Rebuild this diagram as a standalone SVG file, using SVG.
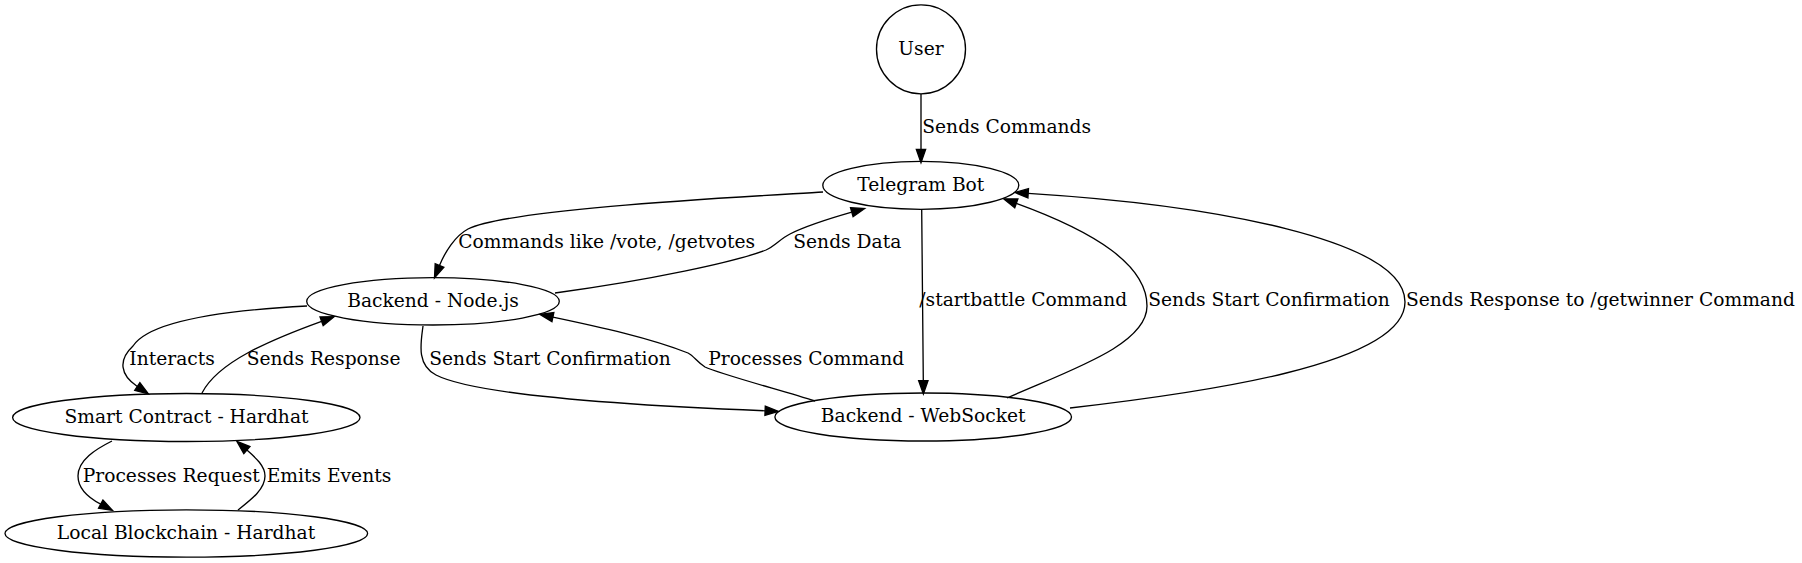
<svg xmlns="http://www.w3.org/2000/svg" width="1802" height="563" viewBox="0 0 1802 563">
<style>
.n{fill:none;stroke:#000;stroke-width:1.33}
.e{fill:none;stroke:#000;stroke-width:1.33;marker-end:url(#ah)}
text{font-family:"DejaVu Serif","Liberation Serif",serif;font-size:18.67px;fill:#000}
.c{text-anchor:middle}
</style>
<defs>
<marker id="ah" markerUnits="userSpaceOnUse" markerWidth="15" markerHeight="11" refX="0" refY="4.67" orient="auto" overflow="visible">
<path d="M0,0 L13.3,4.67 L0,9.33 Z" fill="#000" stroke="#000" stroke-width="1.33"/>
</marker>
</defs>
<rect width="1802" height="563" fill="#fff"/>
<g id="edges">
<path class="e" d="M921,94 L921,149.4"/>
<path class="e" d="M823,192 C760,196 510,208 468,229 C455,236 445,252 439.5,265.5"/>
<path class="e" d="M555,293 C650,280 735,262 766,250 C775,246 780,239 790,234 C805,226.5 828,219 851.8,212.2"/>
<path class="e" d="M921.7,209.4 C922,260 923,330 923.3,380.7"/>
<path class="e" d="M1007,398 C1070,370 1147,345 1147,306 C1147,265 1095,232 1016.3,203.4"/>
<path class="e" d="M1070,408 C1200,393 1405,365 1405,302 C1405,240 1215,205 1028.2,193.3"/>
<path class="e" d="M423,326 C421,342 416,365 436,375 C475,395 620,405 765.1,410.8"/>
<path class="e" d="M815,401 C780,390 720,374 705,367 C697,362 694,356 688,353 C650,338 600,327 552.9,317.1"/>
<path class="e" d="M307,306 C230,310 150,320 133,346 C118,360 120,375 137.3,386.5"/>
<path class="e" d="M202,393 C218,362 270,340 321.6,321.3"/>
<path class="e" d="M112,441 C96,449 78,460 78,476 C78,488 87,497 100.7,504.2"/>
<path class="e" d="M238,510 C252,499 265,489 265,476 C265,466 256,458 246.9,450.1"/>
<text x="922.3" y="132.7">Sends Commands</text>
<text x="458.3" y="248.3">Commands like /vote, /getvotes</text>
<text x="793.3" y="248.3">Sends Data</text>
<text x="919.3" y="306">/startbattle Command</text>
<text x="1148.3" y="306">Sends Start Confirmation</text>
<text x="1406" y="306">Sends Response to /getwinner Command</text>
<text x="129.3" y="365">Interacts</text>
<text x="246.7" y="365">Sends Response</text>
<text x="429.3" y="365">Sends Start Confirmation</text>
<text x="708.3" y="365">Processes Command</text>
<text x="82.7" y="481.7">Processes Request</text>
<text x="266.7" y="481.7">Emits Events</text>
</g>
<g id="user"><circle class="n" cx="921" cy="49.3" r="44.5"/><text class="c" x="921" y="54.8">User</text></g>
<g id="telegram"><ellipse class="n" cx="920.8" cy="185.3" rx="98" ry="24"/><text class="c" x="920.8" y="190.7">Telegram Bot</text></g>
<g id="nodejs"><ellipse class="n" cx="433" cy="301.3" rx="126.3" ry="23.7"/><text class="c" x="433" y="306.7">Backend - Node.js</text></g>
<g id="websocket"><ellipse class="n" cx="923.2" cy="417" rx="148.3" ry="24"/><text class="c" x="923.2" y="422.4">Backend - WebSocket</text></g>
<g id="smartcontract"><ellipse class="n" cx="186.3" cy="417.5" rx="173.7" ry="24"/><text class="c" x="186.5" y="423">Smart Contract - Hardhat</text></g>
<g id="blockchain"><ellipse class="n" cx="186.3" cy="533.5" rx="181.3" ry="23.7"/><text class="c" x="186" y="539">Local Blockchain - Hardhat</text></g>
</svg>
